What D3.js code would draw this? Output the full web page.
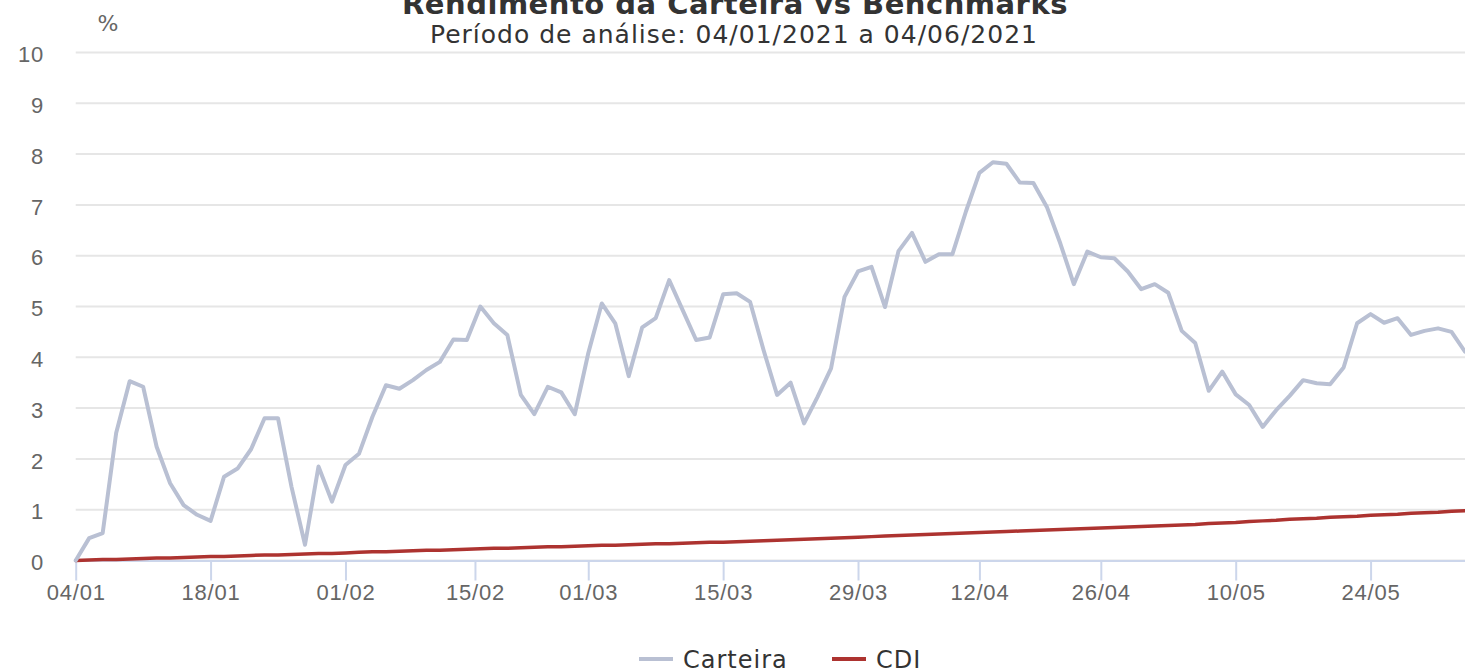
<!DOCTYPE html>
<html lang="pt">
<head>
    <meta charset="UTF-8">
    <title>Rendimento da Carteira vs Benchmarks</title>
    <script src="https://d3js.org/d3.v7.min.js"></script>
    <style>
        body { margin: 0; background: #fff; }
        svg { font-family: "DejaVu Sans", sans-serif; display: block; }
    </style>
</head>
<body>
<script>
    // dias úteis considerados (feriados da bolsa fora)
    var startDate = "2021-01-04";
    var endDate = "2021-06-02";
    var holidays = ["2021-02-15", "2021-02-16", "2021-04-02", "2021-04-21"];

    // rendimento acumulado da carteira (%)
    var carteira = [
        0.00, 0.44, 0.54, 2.51, 3.53, 3.42, 2.24, 1.52, 1.09, 0.90,
        0.78, 1.65, 1.81, 2.19, 2.80, 2.80, 1.45, 0.31, 1.85, 1.16,
        1.88, 2.10, 2.83, 3.45, 3.38, 3.55, 3.75, 3.91, 4.35, 4.34,
        5.00, 4.67, 4.44, 3.26, 2.88, 3.42, 3.31, 2.88, 4.08, 5.06,
        4.67, 3.63, 4.59, 4.77, 5.52, 4.93, 4.34, 4.39, 5.24, 5.26,
        5.09, 4.14, 3.26, 3.50, 2.70, 3.22, 3.78, 5.19, 5.69, 5.78,
        4.99, 6.09, 6.45, 5.88, 6.03, 6.03, 6.87, 7.63, 7.84, 7.81,
        7.44, 7.43, 6.96, 6.24, 5.44, 6.08, 5.97, 5.95, 5.69, 5.34,
        5.44, 5.27, 4.52, 4.28, 3.34, 3.72, 3.27, 3.06, 2.63, 2.96,
        3.24, 3.55, 3.49, 3.47, 3.80, 4.67, 4.85, 4.68, 4.77, 4.44,
        4.52, 4.57, 4.50, 4.11
    ];

    // CDI acumulado (%)
    var cdi = [
        0.00, 0.01, 0.02, 0.02, 0.03, 0.04, 0.05, 0.05, 0.06, 0.07,
        0.08, 0.08, 0.09, 0.10, 0.11, 0.11, 0.12, 0.13, 0.14, 0.14,
        0.15, 0.16, 0.17, 0.17, 0.18, 0.19, 0.20, 0.20, 0.21, 0.22,
        0.23, 0.24, 0.24, 0.25, 0.26, 0.27, 0.27, 0.28, 0.29, 0.30,
        0.30, 0.31, 0.32, 0.33, 0.33, 0.34, 0.35, 0.36, 0.36, 0.37,
        0.38, 0.39, 0.40, 0.41, 0.42, 0.43, 0.44, 0.45, 0.46, 0.47,
        0.48, 0.49, 0.50, 0.51, 0.52, 0.53, 0.54, 0.55, 0.56, 0.57,
        0.58, 0.59, 0.60, 0.61, 0.62, 0.63, 0.64, 0.65, 0.66, 0.67,
        0.68, 0.69, 0.70, 0.71, 0.73, 0.74, 0.75, 0.77, 0.78, 0.79,
        0.81, 0.82, 0.83, 0.85, 0.86, 0.87, 0.89, 0.90, 0.91, 0.93,
        0.94, 0.95, 0.97, 0.98
    ];

    var tickDates = ["2021-01-04", "2021-01-18", "2021-02-01", "2021-02-15", "2021-03-01", "2021-03-15",
        "2021-03-29", "2021-04-12", "2021-04-26", "2021-05-10", "2021-05-24"];
    var yTicks = [0, 1, 2, 3, 4, 5, 6, 7, 8, 9, 10];

    var series = [
        {name: "Carteira", values: carteira, color: "#b9c0d3", width: 4},
        {name: "CDI", values: cdi, color: "#ad3330", width: 3.5}
    ];

    var width = 1465;
    var height = 671;
    var margin = {left: 75.7, right: 0, top: 52.5, bottom: 110.5};
    var fontFamily = "DejaVu Sans, sans-serif";

    var parse = d3.utcParse("%Y-%m-%d");
    var fmt = d3.utcFormat("%Y-%m-%d");
    var dates = [];
    d3.utcDay.range(parse(startDate), d3.utcDay.offset(parse(endDate), 1)).forEach(function (d) {
        var wd = d.getUTCDay();
        if (wd != 0 && wd != 6 && holidays.indexOf(fmt(d)) < 0) {
            dates.push(d);
        }
    });

    // eixo "ordinal": datas sem pregão ficam interpoladas entre os pontos vizinhos
    function dateIndex(s) {
        var t = parse(s).getTime();
        var i = d3.bisector(d => d.getTime()).left(dates, t);
        if (i < dates.length && dates[i].getTime() == t) return i;
        var a = dates[i - 1].getTime(), b = dates[i].getTime();
        return i - 1 + (t - a) / (b - a);
    }

    var svg = d3.select("body")
        .append("svg")
        .attr("width", width)
        .attr("height", height);

    var xScale = d3.scaleLinear()
        .domain([0, dates.length - 1])
        .range([margin.left, width - margin.right]);
    var yScale = d3.scaleLinear()
        .domain([0, 10])
        .range([height - margin.bottom, margin.top]);

    // grade horizontal
    svg.append("g")
        .selectAll("line")
        .data(yTicks)
        .enter()
        .append("line")
        .attr("x1", margin.left)
        .attr("x2", width - margin.right)
        .attr("y1", d => yScale(d))
        .attr("y2", d => yScale(d))
        .attr("stroke", "#e6e6e6")
        .attr("stroke-width", 2);

    // eixo y
    var yAxis = d3.axisLeft(yScale).tickValues(yTicks).tickSize(0).tickPadding(0);
    var gy = svg.append("g")
        .attr("transform", "translate(44,0)")
        .attr("font-family", fontFamily)
        .call(yAxis);
    gy.select(".domain").remove();
    gy.selectAll("text")
        .attr("dy", "0.42em")
        .attr("fill", "#666")
        .style("font-size", "22px")
        .style("letter-spacing", "0.8px");

    // eixo x
    var xAxis = d3.axisBottom(xScale)
        .tickValues(tickDates.map(dateIndex))
        .tickFormat(function (d, i) { return d3.utcFormat("%d/%m")(parse(tickDates[i])); })
        .tickSize(20)
        .tickPadding(4)
        .tickSizeOuter(0);
    var gx = svg.append("g")
        .attr("transform", "translate(0," + yScale(0) + ")")
        .attr("font-family", fontFamily)
        .call(xAxis);
    gx.select(".domain").attr("stroke", "#ccd6eb").attr("stroke-width", 2);
    gx.selectAll(".tick line").attr("stroke", "#ccd6eb").attr("stroke-width", 2);
    gx.selectAll("text")
        .attr("fill", "#666")
        .style("font-size", "22px")
        .style("letter-spacing", "0.8px");

    // linhas
    var line = d3.line()
        .x((d, i) => xScale(i))
        .y(d => yScale(d));

    svg.append("defs").append("clipPath").attr("id", "plot")
        .append("rect")
        .attr("x", margin.left - 5).attr("y", 0)
        .attr("width", width).attr("height", yScale(0) + 3);

    var plot = svg.append("g").attr("clip-path", "url(#plot)");
    plot.selectAll("path.serie")
        .data(series.slice().reverse())
        .enter()
        .append("path")
        .attr("class", "serie")
        .attr("d", d => line(d.values))
        .attr("fill", "none")
        .attr("stroke", d => d.color)
        .attr("stroke-width", d => d.width)
        .attr("stroke-linejoin", "round")
        .attr("stroke-linecap", "round");

    // título
    svg.append("text")
        .attr("x", 735)
        .attr("y", 13.5)
        .attr("text-anchor", "middle")
        .attr("fill", "#333")
        .style("font-size", "29px")
        .style("font-weight", "bold")
        .style("letter-spacing", "0.5px")
        .text("Rendimento da Carteira vs Benchmarks");
    svg.append("text")
        .attr("x", 734)
        .attr("y", 43)
        .attr("text-anchor", "middle")
        .attr("fill", "#333")
        .style("font-size", "25px")
        .style("letter-spacing", "1px")
        .text("Período de análise: 04/01/2021 a 04/06/2021");
    svg.append("text")
        .attr("x", 108)
        .attr("y", 31)
        .attr("text-anchor", "middle")
        .attr("fill", "#666")
        .style("font-size", "22px")
        .text("%");

    // legenda
    var legendX = [639, 832];
    var legend = svg.append("g")
        .selectAll("g")
        .data(series)
        .enter()
        .append("g")
        .attr("transform", (d, i) => "translate(" + legendX[i] + ",659)");
    legend.append("line")
        .attr("x1", 0).attr("x2", 34)
        .attr("stroke", d => d.color)
        .attr("stroke-width", 4);
    legend.append("text")
        .attr("x", 44)
        .attr("y", 8.5)
        .attr("fill", "#333")
        .style("font-size", "24px")
        .style("letter-spacing", "1px")
        .text(d => d.name);
</script>
</body>
</html>
